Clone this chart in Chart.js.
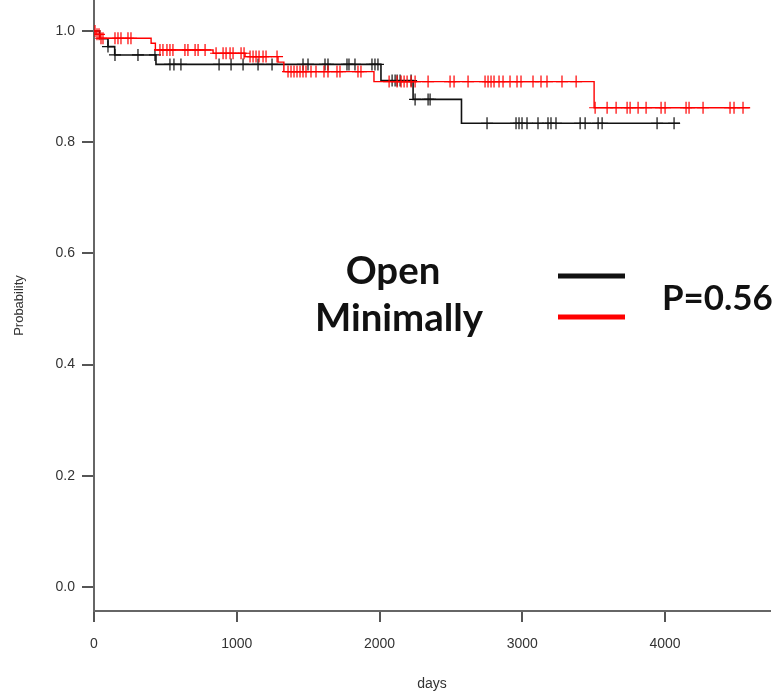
<!DOCTYPE html>
<html>
<head>
<meta charset="utf-8">
<script src="https://cdn.jsdelivr.net/npm/chart.js@4.4.1/dist/chart.umd.min.js"></script>
<style>
  html, body { margin: 0; padding: 0; background: #ffffff; }
  #wrap { width: 783px; height: 700px; }
</style>
</head>
<body>
<div id="wrap"><canvas id="c" width="783" height="700"></canvas></div>
<script>
// ---- Data ----
const xTicks = [0, 1000, 2000, 3000, 4000];
const yTicks = [0.0, 0.2, 0.4, 0.6, 0.8, 1.0];

// Open (black) Kaplan-Meier steps
const openTimes = [0, 40, 98, 145, 434, 2010, 2235, 2574, 4105];
const openSurv  = [1.0, 0.986, 0.972, 0.957, 0.940, 0.911, 0.877, 0.834, 0.834];
const openCensor = [98, 147, 308, 427, 532, 560, 609, 876, 960, 1044, 1149, 1247, 1464, 1499, 1618, 1639,
  1772, 1786, 1828, 1947, 1968, 1989, 2088, 2109, 2123, 2144, 2221, 2249, 2340, 2354, 2753, 2956, 2977,
  2998, 3033, 3110, 3180, 3201, 3236, 3405, 3440, 3531, 3559, 3944, 4063];

// Minimally (red) Kaplan-Meier steps
const minTimes = [0, 14, 42, 400, 430, 834, 1058, 1289, 1330, 1961, 3503, 4596];
const minSurv  = [1.0, 0.994, 0.987, 0.978, 0.966, 0.960, 0.954, 0.944, 0.927, 0.909, 0.862, 0.862];
const minCensor = [7, 21, 35, 49, 63, 147, 168, 189, 238, 259, 462, 483, 511, 532, 553, 637, 658, 708, 729,
  778, 855, 904, 925, 953, 974, 1030, 1051, 1093, 1114, 1135, 1156, 1184, 1205, 1282, 1359, 1380, 1401,
  1422, 1443, 1464, 1485, 1520, 1555, 1611, 1639, 1702, 1723, 1849, 1870, 2067, 2123, 2151, 2172, 2193,
  2221, 2249, 2340, 2494, 2522, 2620, 2739, 2760, 2781, 2802, 2837, 2865, 2914, 2963, 2991, 3075, 3131,
  3173, 3278, 3377, 3510, 3594, 3657, 3734, 3755, 3811, 3867, 3972, 4000, 4147, 4168, 4266, 4455, 4483, 4546];

const groupLabels = ['Open', 'Minimally'];
const pValueText = 'P=0.56';

// ---- helpers ----
function stepValue(times, surv, t) {
  let v = surv[0];
  for (let i = 0; i < times.length; i++) { if (times[i] <= t) v = surv[i]; }
  return v;
}
function curve(times, surv) { return times.map((t, i) => ({ x: t, y: surv[i] })); }
function censor(times, surv, cs) { return cs.map(t => ({ x: t, y: stepValue(times, surv, t) })); }

const BLACK = '#111111';
const RED = '#ff0000';

function fitFont(ctx, text, width) {
  ctx.font = 'bold 100px Lato';
  const w = ctx.measureText(text).width;
  return 'bold ' + (100 * width / w).toFixed(1) + 'px Lato';
}

const annot = {
  id: 'annot',
  afterDraw(chart) {
    const ctx = chart.ctx;
    ctx.save();
    ctx.fillStyle = '#111111';
    ctx.textBaseline = 'alphabetic';
    ctx.font = fitFont(ctx, groupLabels[1], 168);
    ctx.textAlign = 'center';
    ctx.fillText(groupLabels[0], 393, 284);
    ctx.fillText(groupLabels[1], 399, 331);
    ctx.font = fitFont(ctx, pValueText, 111);
    ctx.textAlign = 'left';
    ctx.fillText(pValueText, 662, 310);
    ctx.lineWidth = 5;
    ctx.strokeStyle = BLACK;
    ctx.beginPath(); ctx.moveTo(558, 276); ctx.lineTo(625, 276); ctx.stroke();
    ctx.strokeStyle = RED;
    ctx.beginPath(); ctx.moveTo(558, 317); ctx.lineTo(625, 317); ctx.stroke();
    ctx.restore();
  }
};

new Chart(document.getElementById('c'), {
  type: 'scatter',
  data: {
    datasets: [
      { label: 'Open', data: curve(openTimes, openSurv), showLine: true, stepped: 'before',
        borderColor: BLACK, borderWidth: 1.6, pointRadius: 0, order: 2 },
      { label: 'Minimally', data: curve(minTimes, minSurv), showLine: true, stepped: 'before',
        borderColor: RED, borderWidth: 1.4, pointRadius: 0, order: 1 },
      { label: 'Open censored', data: censor(openTimes, openSurv, openCensor), showLine: false,
        pointStyle: 'cross', pointRadius: 6, borderColor: BLACK, borderWidth: 1.2, backgroundColor: BLACK, order: 2 },
      { label: 'Minimally censored', data: censor(minTimes, minSurv, minCensor), showLine: false,
        pointStyle: 'cross', pointRadius: 6, borderColor: RED, borderWidth: 1.2, backgroundColor: RED, order: 1 }
    ]
  },
  options: {
    responsive: false,
    animation: false,
    events: [],
    layout: { autoPadding: false, padding: { left: 0, top: 0, right: 13, bottom: 0 } },
    plugins: { legend: { display: false }, tooltip: { enabled: false } },
    scales: {
      x: {
        type: 'linear', min: 0, max: 4735,
        afterBuildTicks: s => { s.ticks = xTicks.map(v => ({ value: v })); },
        afterFit: s => { s.height = 89; s.paddingLeft = 0; s.paddingRight = 0; },
        grid: { display: true, drawOnChartArea: false, drawTicks: true, tickLength: 11, color: '#555555', lineWidth: 2 },
        border: { display: true, color: '#666666', width: 2 },
        ticks: { color: '#333333', font: { family: 'Liberation Sans, Arial', size: 14 }, padding: 14, maxRotation: 0,
                 callback: v => String(v) },
        title: { display: true, text: 'days', color: '#333333', font: { family: 'Liberation Sans, Arial', size: 14 }, padding: { top: 7, bottom: 7 } }
      },
      y: {
        type: 'linear', min: -0.0432, max: 1.0558,
        afterBuildTicks: s => { s.ticks = yTicks.map(v => ({ value: v })); },
        afterFit: s => { s.width = 94; s.paddingTop = 0; s.paddingBottom = 0; },
        grid: { display: true, drawOnChartArea: false, drawTicks: true, tickLength: 12, color: '#555555', lineWidth: 2 },
        border: { display: true, color: '#666666', width: 2 },
        ticks: { color: '#333333', font: { family: 'Liberation Sans, Arial', size: 14 }, padding: 7,
                 callback: v => Number(v).toFixed(1) },
        title: { display: true, text: 'Probability', color: '#333333', font: { family: 'Liberation Sans, Arial', size: 13 }, padding: { top: 12, bottom: 12 } }
      }
    }
  },
  plugins: [annot]
});
</script>
</body>
</html>
